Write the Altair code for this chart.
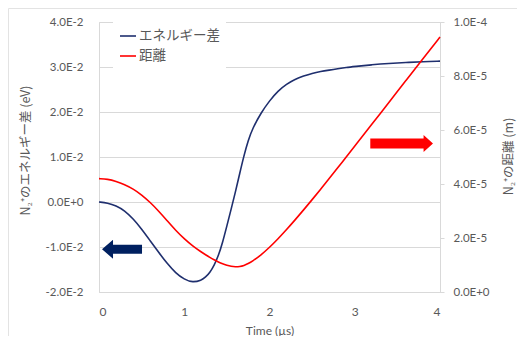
import altair as alt
import pandas as pd

# ---- data ----
time_us = [0.0, 0.1, 0.2, 0.3, 0.4, 0.5, 0.6, 0.7, 0.8, 0.9, 1.0, 1.1, 1.2, 1.25, 1.3, 1.35,
           1.4, 1.45, 1.5, 1.55, 1.6, 1.65, 1.7, 1.75, 1.8, 1.9, 2.0, 2.1, 2.2, 2.3, 2.4,
           2.5, 2.6, 2.7, 2.8, 2.9, 3.0, 3.2, 3.4, 3.6, 3.8, 4.0]

# energy difference (eV)
energy_ev = [0.0, -0.0002, -0.0008, -0.0019, -0.0037, -0.0060, -0.0086, -0.0112, -0.0137,
             -0.0158, -0.0172, -0.0179, -0.0174, -0.0167, -0.0157, -0.0141,
             -0.0120, -0.0090, -0.0053, -0.0016, 0.0022, 0.0063, 0.0103, 0.0137, 0.0163,
             0.0198, 0.0225, 0.0247, 0.0262, 0.0273, 0.0280,
             0.0286, 0.0290, 0.0293, 0.0296, 0.0299, 0.0301, 0.0305, 0.0308, 0.0310,
             0.0312, 0.0313]

# distance (m)
distance_m = [4.20e-5, 4.18e-5, 4.10e-5, 3.98e-5, 3.82e-5, 3.60e-5, 3.32e-5, 3.00e-5, 2.64e-5,
              2.28e-5, 1.97e-5, 1.70e-5, 1.48e-5, 1.38e-5, 1.28e-5, 1.19e-5,
              1.11e-5, 1.04e-5, 0.99e-5, 0.95e-5, 0.93e-5, 0.94e-5, 0.98e-5, 1.05e-5, 1.14e-5,
              1.37e-5, 1.65e-5, 1.97e-5, 2.31e-5, 2.67e-5, 3.04e-5,
              3.42e-5, 3.81e-5, 4.20e-5, 4.60e-5, 5.00e-5, 5.40e-5, 6.21e-5, 7.02e-5, 7.83e-5,
              8.64e-5, 9.44e-5]

series_names = ["エネルギー差", "距離"]
series_colors = ["#1F2F6E", "#FF0000"]

x_ticks = [0, 1, 2, 3, 4]
left_ticks = [-0.02, -0.01, 0.0, 0.01, 0.02, 0.03, 0.04]
right_ticks = [0.0, 2e-5, 4e-5, 6e-5, 8e-5, 1e-4]

# annotation arrows (position in data units)
arrow_left_t = [0.27]
arrow_left_v = [-0.0105]
arrow_right_t = [3.55]
arrow_right_v = [5.5e-5]

df_e = pd.DataFrame({"t": time_us, "v": energy_ev, "s": series_names[0]})
df_d = pd.DataFrame({"t": time_us, "v": distance_m, "s": series_names[1]})
df_ae = pd.DataFrame({"t": arrow_left_t, "v": arrow_left_v})
df_ad = pd.DataFrame({"t": arrow_right_t, "v": arrow_right_v})

TXT = "#595959"
GRID = "#D9D9D9"
LAT = "Lato"
JP = "Noto Sans CJK JP"

sci_expr = "replace(replace(format(datum.value, '.1e'), 'e', 'E'), '\u2212', '-')"

xscale = alt.Scale(domain=[0, 4], nice=False)
xaxis = alt.Axis(values=x_ticks, format="d", title="Time (µs)", grid=False, ticks=False,
                 domainColor=GRID, labelPadding=14,
                 labelFont=LAT, labelFontSize=12, labelColor=TXT,
                 titleFont=LAT, titleFontSize=12, titleFontWeight="normal", titleColor=TXT,
                 titleY=38, titleBaseline="middle")

color = alt.Color("s:N", scale=alt.Scale(domain=series_names, range=series_colors),
                  legend=alt.Legend(title=None, orient="none", legendX=14, legendY=-1,
                                    symbolType="stroke", symbolSize=256, symbolStrokeWidth=1.6,
                                    labelFont=JP, labelFontSize=13.5, labelColor=TXT,
                                    labelOffset=2, rowPadding=4, padding=6,
                                    fillColor="white"))

left_axis = alt.Axis(values=left_ticks, labelExpr=sci_expr, orient="left",
                     title="N₂⁺のエネルギー差 (eV)", grid=True, gridColor=GRID, ticks=False,
                     domainColor=GRID, labelPadding=16,
                     labelFont=LAT, labelFontSize=11.5, labelColor=TXT,
                     titleFont=JP, titleFontSize=12.5, titleFontWeight="normal",
                     titleColor=TXT, titleAngle=270, titleX=-74, titleY=128,
                     titleAlign="center", titleBaseline="middle")

right_axis = alt.Axis(values=right_ticks, labelExpr=sci_expr, orient="right",
                      title="N₂⁺の距離 (m)", grid=False, ticks=True, tickSize=4, tickColor=GRID,
                      domainColor=GRID, labelPadding=9,
                      labelFont=LAT, labelFontSize=11.5, labelColor=TXT,
                      titleFont=JP, titleFontSize=12.5, titleFontWeight="normal",
                      titleColor=TXT, titleAngle=270, titleX=68, titleY=134,
                      titleAlign="center", titleBaseline="middle")

escale = alt.Scale(domain=[-0.02, 0.04], nice=False, zero=False)
dscale = alt.Scale(domain=[0, 1e-4], nice=False)

line_e = alt.Chart(df_e).mark_line(strokeWidth=1.6, interpolate="basis").encode(
    x=alt.X("t:Q", scale=xscale, axis=xaxis),
    y=alt.Y("v:Q", scale=escale, axis=left_axis),
    color=color,
)
arrow_e = alt.Chart(df_ae).mark_point(
    shape="M -1 0 L -0.45 -0.475 L -0.45 -0.225 L 1 -0.225 L 1 0.225 L -0.45 0.225 L -0.45 0.475 Z",
    size=1600, filled=True, color="#002060", opacity=1, strokeWidth=0,
).encode(x=alt.X("t:Q", scale=xscale, axis=xaxis), y=alt.Y("v:Q", scale=escale, axis=left_axis))

line_d = alt.Chart(df_d).mark_line(strokeWidth=1.6, interpolate="basis").encode(
    x=alt.X("t:Q", scale=xscale, axis=xaxis),
    y=alt.Y("v:Q", scale=dscale, axis=right_axis),
    color=color,
)
arrow_d = alt.Chart(df_ad).mark_point(
    shape="M 1 0 L 0.7 -0.27 L 0.7 -0.16 L -1 -0.16 L -1 0.16 L 0.7 0.16 L 0.7 0.27 Z",
    size=3930, filled=True, color="#FF0000", opacity=1, strokeWidth=0,
).encode(x=alt.X("t:Q", scale=xscale, axis=xaxis), y=alt.Y("v:Q", scale=dscale, axis=right_axis))

left = alt.layer(line_e, arrow_e)
right = alt.layer(line_d, arrow_d)

frame_df = pd.DataFrame({"a": [0]})
frame_top = alt.Chart(frame_df).mark_rule(color="#E3E3E3", strokeWidth=1).encode(
    x=alt.value(-90.5), x2=alt.value(440), y=alt.value(-13.5))
frame_left = alt.Chart(frame_df).mark_rule(color="#E3E3E3", strokeWidth=1).encode(
    x=alt.value(-90.5), y=alt.value(-13.5), y2=alt.value(400))

chart = alt.layer(left, right).resolve_scale(y="independent")
chart = alt.layer(chart, frame_top, frame_left).properties(
    width=341, height=270,
    autosize=alt.AutoSizeParams(type="none"),
    padding={"left": 91, "top": 14, "right": 77, "bottom": 44},
).configure_view(strokeOpacity=0).configure(background="white")

chart.save("out.html", embed_options={"renderer": "svg", "actions": False})
